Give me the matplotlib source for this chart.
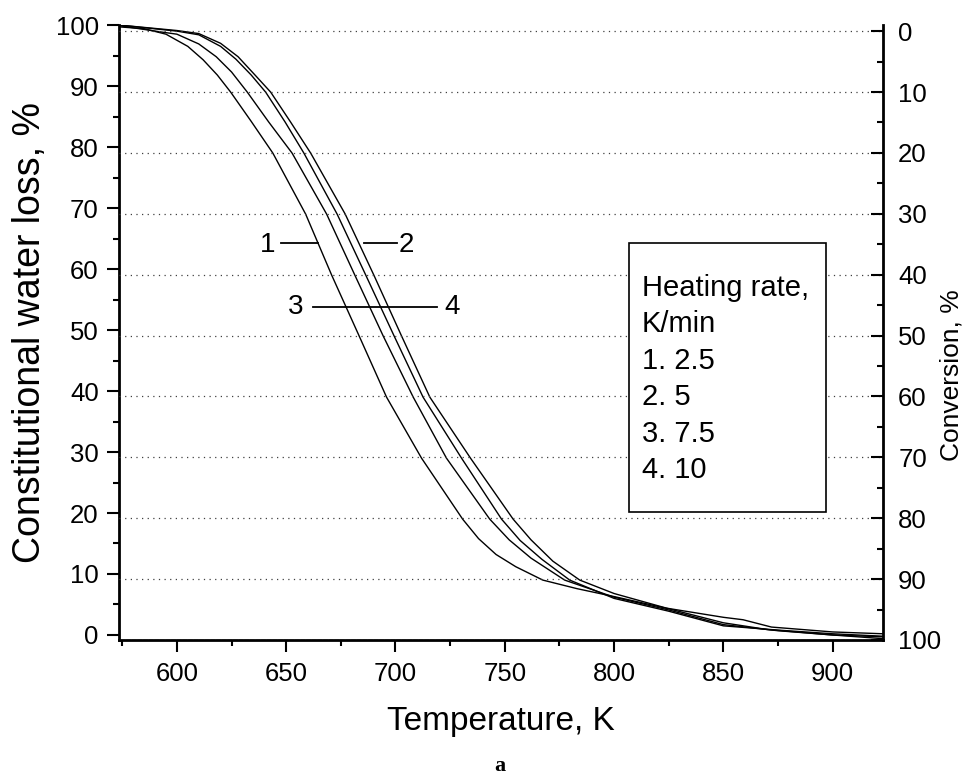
import matplotlib
matplotlib.use("Agg")
import matplotlib.pyplot as plt
from matplotlib.patches import Rectangle
from matplotlib.ticker import MultipleLocator

plt.rcParams['font.family'] = ['Liberation Sans', 'DejaVu Sans']

# curves: temperature (K) and constitutional water loss (%)
temp_1 = [573.5, 585, 595, 605, 612, 618.5, 624.6, 634, 643.9, 658.9, 670.8, 683.4, 695.9,
          711.9, 730.7, 738, 746, 755, 767.4, 783, 800, 825, 850, 870, 900, 923]
loss_1 = [99.7, 99.4, 98.5, 96.5, 94.3, 91.8, 89.0, 84.2, 79.0, 69.0, 59.0, 49.0, 39.0,
          29.0, 19.0, 15.8, 13.2, 11.2, 9.0, 7.6, 6.3, 4.3, 2.0, 0.9, 0.0, -0.3]

temp_2 = [573.5, 592, 600, 610, 618, 625, 632.2, 642, 652.7, 668.5, 681.4, 694.4, 708.1,
          723.3, 743.1, 752, 762, 777.4, 800, 825, 850, 875, 900, 923]
loss_2 = [99.9, 98.9, 98.5, 96.9, 94.8, 92.3, 89.0, 84.1, 79.0, 69.0, 59.0, 49.0, 39.0,
          29.0, 19.0, 15.6, 12.6, 9.0, 6.2, 4.1, 1.7, 0.7, 0.0, -0.6]

temp_3 = [573.5, 600, 610, 620, 627, 634, 640.6, 649.5, 658.1, 673.3, 686.4, 699.4, 712.6,
          730.2, 748.5, 757, 767, 779.7, 800, 825, 850, 875, 900, 923]
loss_3 = [100.0, 99.0, 98.4, 96.5, 94.4, 91.8, 89.0, 84.1, 79.0, 69.0, 59.0, 49.0, 39.0,
          29.0, 19.0, 15.5, 12.4, 9.0, 6.0, 3.9, 1.5, 0.8, 0.2, -0.2]

temp_4 = [573.5, 600, 610, 620, 628, 636, 642.9, 652, 661.2, 677.0, 690.1, 702.8, 715.7,
          734.3, 753.8, 762, 772, 784.3, 800, 824, 850, 859, 872, 900, 923]
loss_4 = [100.0, 99.1, 98.6, 97.0, 94.8, 91.7, 89.0, 84.1, 79.0, 69.0, 59.0, 49.0, 39.0,
          29.0, 19.0, 15.6, 12.1, 9.0, 6.8, 4.4, 2.9, 2.5, 1.3, 0.5, 0.2]

legend_lines = ["Heating rate,", "K/min", "1. 2.5", "2. 5", "3. 7.5", "4. 10"]

fig = plt.figure(figsize=(9.72, 7.75), dpi=100)
ax = fig.add_axes([0.1224, 0.1742, 0.7860, 0.7935])

for t, w in [(temp_1, loss_1), (temp_2, loss_2), (temp_3, loss_3), (temp_4, loss_4)]:
    ax.plot(t, w, color='black', linewidth=1.0)

# curve labels with leader lines
ax.plot([647.6, 664.6], [64.2, 64.2], color='black', linewidth=1.3)
ax.plot([685.7, 700.5], [64.2, 64.2], color='black', linewidth=1.3)
ax.plot([662.1, 719.0], [53.8, 53.8], color='black', linewidth=1.3)
for s, x, y in [("1", 641.3, 64.0), ("2", 704.8, 64.0), ("3", 654.4, 53.8), ("4", 726.0, 53.8)]:
    ax.text(x, y, s, fontsize=20, ha='center', va='center')

ax.set_xlim(573.5, 923)
ax.set_ylim(-0.82, 100)
ax.xaxis.set_major_locator(MultipleLocator(50))
ax.xaxis.set_minor_locator(MultipleLocator(25))
ax.yaxis.set_major_locator(MultipleLocator(10))
ax.yaxis.set_minor_locator(MultipleLocator(5))
ax.tick_params(which='both', direction='out', width=1.5, labelsize=18.5)
ax.tick_params(which='major', length=8.5)
ax.tick_params(which='minor', length=4.3)
ax.tick_params(axis='y', pad=6)
ax.tick_params(axis='x', pad=7.5)
for side in ['left', 'bottom']:
    ax.spines[side].set_linewidth(2.0)
ax.spines['top'].set_visible(False)
ax.spines['right'].set_visible(False)

ax.set_xlabel("Temperature, K", fontsize=24, va='center')
ax.xaxis.set_label_coords(0.5, -0.133)
ax.set_ylabel("Constitutional water loss, %", fontsize=27, va='center')
ax.yaxis.set_label_coords(-0.1165, 0.5)

# right axis: conversion
ax2 = ax.twinx()
ax2.set_ylim(100, -1)
ax2.yaxis.set_major_locator(MultipleLocator(10))
ax2.yaxis.set_minor_locator(MultipleLocator(5))
ax2.tick_params(which='both', direction='in', width=1.5, labelsize=18.5, pad=11)
ax2.tick_params(which='major', length=8.5)
ax2.tick_params(which='minor', length=4.3)
ax2.spines['right'].set_linewidth(2.0)
for side in ['top', 'left', 'bottom']:
    ax2.spines[side].set_visible(False)
ax2.grid(axis='y', which='major', color='0.25', linestyle=(0, (1, 3.5)), linewidth=0.9)
ax2.set_ylabel("Conversion, %", fontsize=19, rotation=90, va='center')
ax2.yaxis.set_label_coords(1.09, 0.43)

# legend box
ax2.add_patch(Rectangle((0.6675, 0.208), 0.2575, 0.438, transform=ax2.transAxes,
                        facecolor='white', edgecolor='black', linewidth=1.2, zorder=3))
for i, line in enumerate(legend_lines):
    ax2.text(0.684, 0.5593 - i * 0.0592, line, transform=ax2.transAxes, fontsize=21,
             ha='left', va='baseline', zorder=4)

fig.text(0.5144, 0.0116, "a", family=['Liberation Serif', 'DejaVu Serif'], weight='bold',
         fontsize=16, ha='center', va='center')

fig.savefig("out.png", dpi=100)
